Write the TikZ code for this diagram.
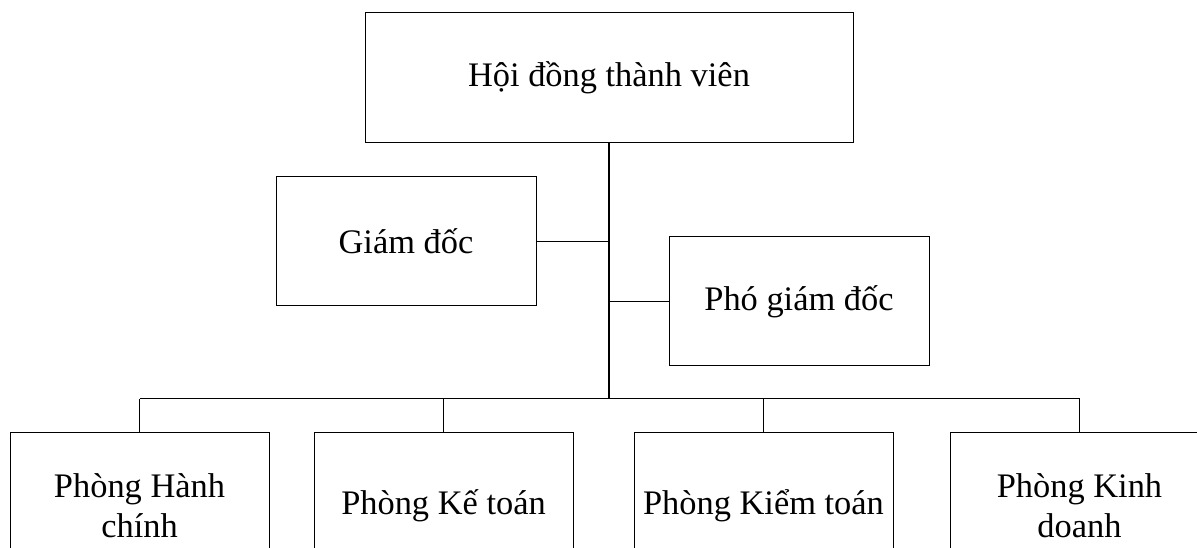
\documentclass[tikz,border=0pt]{standalone}
\usepackage{fontspec}
\setmainfont{Liberation Serif}
\usepackage{tikz}

\tikzset{
  unitbox/.style={draw, line width=0.75pt, align=center, inner sep=0pt,
    font=\fontsize{25.8}{30}\selectfont},
  topbox/.style={unitbox, minimum width=366pt, minimum height=97.5pt},
  midbox/.style={unitbox, minimum width=195pt, minimum height=96.75pt},
  deptbox/.style={unitbox, minimum width=194.25pt, minimum height=109.5pt},
  link/.style={line width=0.75pt},
}

\begin{document}
\begin{tikzpicture}[x=0.75pt, y=-0.75pt]
        \useasboundingbox (0,0) rectangle (1197,548);
        \clip (0,0) rectangle (1197,548);
        % boxes
        \node[topbox] (hdtv) at (609,78) {Hội đồng thành viên};
        \node[midbox] (gd) at (406,241.5) {Giám đốc};
        \node[midbox] (pgd) at (799,301.5) {Phó giám đốc};
        \node[deptbox] (hc) at (139.5,506) {Phòng Hành\\chính};
        \node[deptbox] (kt) at (443.5,506) {Phòng Kế toán};
        \node[deptbox] (kiem) at (763.5,506) {Phòng Kiểm toán};
        \node[deptbox] (kd) at (1079.5,506) {Phòng Kinh\\doanh};
        \coordinate (bus) at (609,399);
        % trunk and branches
        \draw[line width=1.5pt] (hdtv.south) -- (bus);
        \draw[link] (gd.east) -- (gd.east -| hdtv.south);
        \draw[link] (pgd.west) -- (pgd.west -| hdtv.south);
        \draw[link] (hc.north |- bus) -- (kd.north |- bus);
        \foreach \dept in {hc,kt,kiem,kd}
            \draw[link] (\dept.north) -- (\dept.north |- bus);
\end{tikzpicture}
\end{document}
